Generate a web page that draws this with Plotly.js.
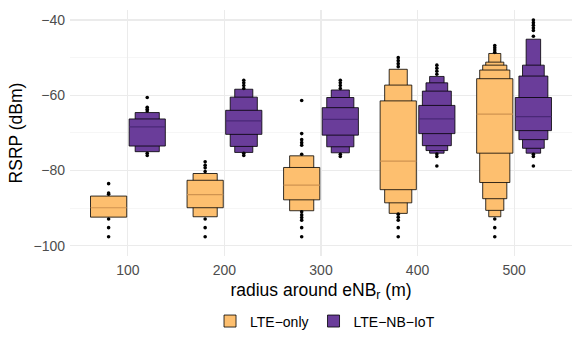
<!DOCTYPE html>
<html>
<head>
<meta charset="utf-8">
<script src="https://cdn.plot.ly/plotly-3.0.1.min.js"></script>
<style>
  html, body { margin: 0; padding: 0; background: #fff; }
  #chart { width: 581px; height: 349px; }
</style>
</head>
<body>
<div id="chart"></div>
<script>
// radius categories (m)
var radius = [100, 200, 300, 400, 500];

// LTE-only letter values: per radius, [lower, upper] of each level from the fourths outward
var lteMedian = [-89.9, -86.4, -83.9, -77.5, -65.0];
var lteLower = [[-92.4], [-89.9, -92.3], [-87.8, -90.7], [-85.1, -88.6, -91.4], [-75.4, -83.2, -87.5, -90.6, -92.3]];
var lteUpper = [[-86.8], [-82.6, -80.8], [-79.2, -76.1], [-61.5, -57.3, -53.1], [-55.6, -53.3, -52.0, -51.2, -48.9]];
var lteOutliers = [
    [-83.5, -86.0, -86.3, -92.9, -95.2, -97.6],
    [-77.7, -78.6, -79.3, -80.3, -92.9, -95.2, -97.6],
    [-61.4, -70.2, -71.8, -72.6, -73.3, -75.7, -91.0, -91.8, -92.5, -93.2, -95.2, -97.6],
    [-50.0, -50.8, -51.6, -52.4, -91.6, -92.4, -93.2, -95.2, -97.6],
    [-46.8, -47.4, -48.0, -48.6, -92.9, -95.2, -97.6]
];

// LTE-NB-IoT letter values
var nbMedian = [-68.4, -66.8, -66.4, -66.3, -65.7];
var nbLower = [[-73.5, -75.0], [-70.4, -73.6, -75.2], [-70.6, -73.7, -75.3], [-70.2, -73.4, -74.7, -75.4], [-69.4, -71.8, -74.1, -75.4]];
var nbUpper = [[-66.3, -64.6], [-64.0, -60.5, -58.4], [-63.3, -60.6, -58.6], [-62.7, -58.9, -56.7, -55.0], [-60.6, -54.9, -52.0, -45.1]];
var nbOutliers = [
    [-60.6, -63.2, -63.7, -64.2, -75.4, -76.0],
    [-56.0, -56.7, -57.4, -58.2, -75.4, -76.0],
    [-56.0, -56.7, -57.4, -58.2, -75.7, -76.3],
    [-52.0, -52.8, -53.6, -54.4, -75.6, -76.3, -78.8],
    [-40.0, -40.7, -41.4, -42.1, -42.8, -44.3, -75.7, -76.3, -78.8]
];

var boxWidth = 37.5;   // widest box, in x units
var dodge = 20;        // offset of each series from the category
var font = 'Liberation Sans, Arial, sans-serif';

var data = [];

// build letter-value boxes: narrow outer levels first, widest on top
function addSeries(name, offset, fill, medColor, median, lower, upper, outliers) {
    var maxK = Math.max.apply(null, lower.map(function (l) { return l.length; }));
    for (var k = maxK - 1; k >= 0; k--) {
        var xs = [], bases = [], hs = [], ws = [];
        for (var i = 0; i < radius.length; i++) {
            var K = lower[i].length;
            if (k < K) {
                xs.push(radius[i] + offset);
                bases.push(lower[i][k]);
                hs.push(upper[i][k] - lower[i][k]);
                ws.push(boxWidth * (1 - k / (K + 1)));
            }
        }
        data.push({
            type: 'bar', x: xs, y: hs, base: bases, width: ws,
            name: name, legendgroup: name, showlegend: k === 0,
            marker: {color: fill, line: {color: 'rgba(0,0,0,0.8)', width: 1}},
            hoverinfo: 'skip'
        });
    }
    // median lines
    var mx = [], my = [];
    for (var j = 0; j < radius.length; j++) {
        mx.push(radius[j] + offset - boxWidth / 2, radius[j] + offset + boxWidth / 2, null);
        my.push(median[j], median[j], null);
    }
    data.push({
        type: 'scatter', mode: 'lines', x: mx, y: my, showlegend: false,
        line: {color: medColor, width: 1.2}, hoverinfo: 'skip'
    });
    // outliers
    var ox = [], oy = [];
    outliers.forEach(function (pts, j) {
        pts.forEach(function (v) { ox.push(radius[j] + offset); oy.push(v); });
    });
    data.push({
        type: 'scatter', mode: 'markers', x: ox, y: oy, showlegend: false,
        marker: {color: 'black', size: 3.6}, hoverinfo: 'skip'
    });
}

addSeries('LTE\u2212only', -dodge, '#fdbf6f', '#cf9350', lteMedian, lteLower, lteUpper, lteOutliers);
addSeries('LTE\u2212NB\u2212IoT', dodge, '#6a3d9a', '#4a2877', nbMedian, nbLower, nbUpper, nbOutliers);

var layout = {
    width: 581, height: 349,
    margin: {l: 70, r: 9, t: 10, b: 93},
    paper_bgcolor: 'white', plot_bgcolor: 'white',
    barmode: 'overlay',
    font: {family: font, size: 14, color: '#4d4d4d'},
    showlegend: true,
    legend: {
        orientation: 'h', x: 0.508, xanchor: 'center', y: -0.266, yanchor: 'middle',
        font: {family: font, size: 14, color: 'black'}, traceorder: 'normal'
    },
    xaxis: {
        range: [40, 560], tickvals: radius, ticks: '', showline: false, zeroline: false,
        showgrid: true, gridcolor: '#ebebeb', gridwidth: 1.1,
        tickfont: {size: 14, color: '#4d4d4d'}, ticklabelstandoff: 4,
        title: {text: 'radius around eNB<sub>r</sub> (m)', font: {size: 17.5, color: 'black'}, standoff: 6}
    },
    yaxis: {
        range: [-102.73, -37.34], tickvals: [-100, -80, -60, -40], ticks: '', showline: false, zeroline: false,
        showgrid: true, gridcolor: '#ebebeb', gridwidth: 1.1,
        minor: {tickvals: [-90, -70, -50], showgrid: true, gridcolor: '#f0f0f0', gridwidth: 0.6},
        tickfont: {size: 14, color: '#4d4d4d'}, ticklabelstandoff: 4,
        title: {text: 'RSRP (dBm)', font: {size: 17.5, color: 'black'}, standoff: 6}
    }
};

Plotly.newPlot('chart', data, layout, {displayModeBar: false, staticPlot: true});
</script>
</body>
</html>
